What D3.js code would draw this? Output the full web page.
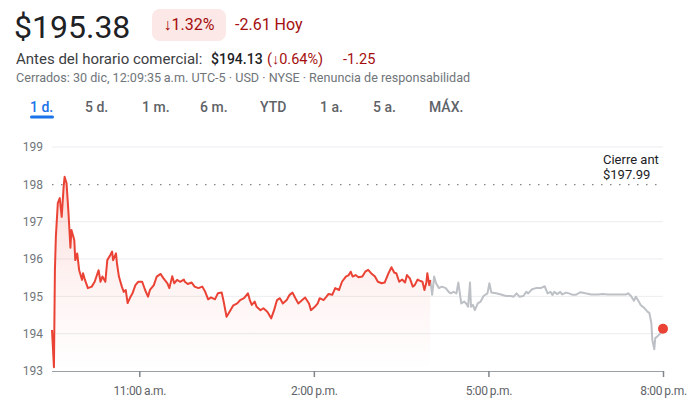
<!DOCTYPE html>
<html>
<head>
<meta charset="utf-8">
<script src="https://cdn.jsdelivr.net/npm/d3@7"></script>
<style>
  body { margin: 0; background: #fff; }
  svg { display: block; font-family: Roboto, "Noto Sans", sans-serif; }
</style>
</head>
<body>
<div id="chart"></div>
<script>
// minutes after 9:30 a.m. and price, regular session
var sessionMin = [0,2,3,4,6,8,10,12,13,15,17,19,20,23,24,26,28,31,32,34,37,41,44,48,50,52,55,57,60,62,63,66,67,69,72,74,76,78,81,83,86,89,93,96,99,101,105,108,112,115,119,121,124,126,129,132,136,137,140,144,147,151,155,158,161,164,168,171,175,177,180,184,187,191,194,198,202,204,206,209,211,215,218,222,226,229,232,235,238,242,245,248,251,254,258,261,265,267,271,274,276,280,283,285,289,292,296,299,303,306,308,310,313,316,320,323,326,329,333,336,340,343,347,350,353,355,358,361,364,366,369,372,374,377,379,382,384,386,387,389,390];
var sessionPrice = [194.1,193.1,195.7,196.6,197.5,197.63,197.13,197.94,198.2,198.03,197.23,196.3,196.78,196.5,195.97,196.15,195.7,195.44,195.62,195.44,195.22,195.26,195.39,195.7,195.39,195.53,195.39,195.97,196.1,196.2,195.97,196.15,195.88,195.53,195.26,195.12,195.17,194.82,194.99,195.08,195.3,195.39,195.39,195.17,194.99,195.17,195.3,195.53,195.6,195.48,195.35,195.22,195.54,195.35,195.44,195.39,195.45,195.39,195.33,195.37,195.26,195.22,195.26,195.12,194.92,194.97,194.92,195.08,195.1,194.86,194.45,194.63,194.76,194.81,194.9,194.95,195.08,194.9,194.77,194.86,194.72,194.63,194.68,194.59,194.41,194.63,194.9,194.95,194.81,194.9,195.04,195.1,194.95,194.81,194.9,194.97,194.81,194.63,194.72,194.81,194.95,194.9,194.99,195.06,195.04,195.22,195.17,195.39,195.53,195.57,195.66,195.53,195.57,195.51,195.53,195.66,195.71,195.62,195.53,195.39,195.35,195.37,195.62,195.78,195.63,195.62,195.39,195.45,195.37,195.57,195.48,195.26,195.3,195.45,195.42,195.39,195.17,195.37,195.62,195.3,195.44];

// after hours
var afterMin = [390,392,394,396,399,402,406,409,411,414,417,419,421,422,425,427,429,431,432,434,436,439,442,445,449,451,453,458,463,468,473,476,479,482,486,489,491,495,499,504,508,511,514,516,518,521,524,526,530,533,537,540,545,550,556,563,568,573,580,587,592,594,597,600,602,605,607,611,614,616,618,619,621,622,624,627,630];
var afterPrice = [195.44,195.04,195.53,195.35,195.22,195.26,195.22,195.12,195.08,195.12,195.08,195.37,194.99,194.81,194.86,194.81,194.72,195.37,194.72,194.77,194.63,194.81,194.86,195.01,195.08,195.35,195.1,195.08,195.05,195.01,195.01,194.99,195.08,194.99,195.01,195.12,195.08,195.19,195.22,195.22,195.27,195.08,195.12,195.04,195.12,195.06,195.12,195.05,195.1,195.08,195.04,195.04,195.11,195.08,195.05,195.05,195.06,195.05,195.05,195.05,195.05,195.08,195.01,194.88,194.99,194.86,194.77,194.68,194.59,194.55,194.28,193.83,193.58,193.88,193.92,194.0,194.1];

var prevClose = 197.99;
var lastMin = 630, lastPrice = 194.13;

var yTicks = [193, 194, 195, 196, 197, 198, 199];
var xTickMin = [90, 270, 450, 630];
var xTickLabels = ["11:00\u2009a.m.", "2:00\u2009p.m.", "5:00\u2009p.m.", "8:00\u2009p.m."];

var tabs = ["1 d.", "5 d.", "1 m.", "6 m.", "YTD", "1 a.", "5 a.", "MÁX."];
var tabX = [30, 85, 142, 200, 260, 320, 373, 429];

var W = 696, H = 410;
var svg = d3.select("#chart").append("svg")
  .attr("width", W)
  .attr("height", H);

// header
svg.append("text").attr("x", 14).attr("y", 38)
  .style("font-size", "32px").style("fill", "#202124")
  .text("$195.38");

svg.append("rect").attr("x", 152).attr("y", 9).attr("width", 74).attr("height", 32)
  .attr("rx", 8).style("fill", "#fce8e6");
svg.append("text").attr("x", 189).attr("y", 30).attr("text-anchor", "middle")
  .style("font-size", "16px").style("fill", "#a50e0e")
  .text("\u21931.32%");
svg.append("text").attr("x", 235).attr("y", 30)
  .style("font-size", "16px").style("fill", "#a50e0e")
  .text("-2.61 Hoy");

var l2 = svg.append("text").attr("x", 16).attr("y", 64);
l2.append("tspan").style("font-size", "15px").style("fill", "#3c4043").text("Antes del horario comercial:");
l2.append("tspan").attr("x", 211).style("font-size", "14px").style("fill", "#202124").style("font-weight", 500).text("$194.13");
l2.append("tspan").attr("x", 267).style("font-size", "14.5px").style("fill", "#a50e0e").text("(\u21930.64%)");
l2.append("tspan").attr("x", 343).style("font-size", "14.5px").style("fill", "#a50e0e").text("-1.25");

svg.append("text").attr("x", 16).attr("y", 82)
  .style("font-size", "12.6px").style("fill", "#70757a")
  .text("Cerrados: 30 dic, 12:09:35\u2009a.m. UTC-5 · USD · NYSE · Renuncia de responsabilidad");

// tabs
svg.selectAll(".tab")
  .data(tabs)
  .enter().append("text")
  .attr("class", "tab")
  .attr("x", function(d, i) { return tabX[i]; })
  .attr("y", 112)
  .style("font-size", "14px")
  .style("font-weight", 500)
  .style("fill", function(d, i) { return i == 0 ? "#1a73e8" : "#5f6368"; })
  .text(function(d) { return d; });
svg.append("rect").attr("x", 30).attr("y", 115.5).attr("width", 24).attr("height", 3)
  .attr("rx", 1.5).style("fill", "#1a73e8");

// scales
var xScale = d3.scaleLinear().domain([0, 630]).range([52, 663]);
var yScale = d3.scaleLinear().domain([193, 199]).range([371, 147]);

// grid
svg.selectAll(".grid")
  .data(yTicks.filter(function(d) { return d != 193 && d != 198; }))
  .enter().append("line")
  .attr("class", "grid")
  .attr("x1", 52).attr("x2", 663)
  .attr("y1", function(d) { return yScale(d); })
  .attr("y2", function(d) { return yScale(d); })
  .style("stroke", "#ebedef").style("stroke-width", 1);

// y labels
var yAxis = d3.axisLeft(yScale).tickValues(yTicks).tickSize(0).tickPadding(9)
  .tickFormat(d3.format("d"));
var yg = svg.append("g").attr("transform", "translate(52,0)").call(yAxis);
yg.select(".domain").remove();
yg.selectAll("text").style("font-size", "12px").style("fill", "#70757a")
  .style("font-family", "Roboto, sans-serif");

// previous close
svg.append("line")
  .attr("x1", 52).attr("x2", 663)
  .attr("y1", yScale(prevClose)).attr("y2", yScale(prevClose))
  .style("stroke", "#80868b").style("stroke-width", 1.2)
  .style("stroke-dasharray", "1.5,7.5");
var pc = svg.append("text").attr("x", 603).style("font-size", "13px").style("fill", "#202124");
pc.append("tspan").attr("x", 603).attr("y", 164).text("Cierre ant");
pc.append("tspan").attr("x", 603).attr("y", 179).text("$" + prevClose.toFixed(2));

// gradient fill
var grad = svg.append("defs").append("linearGradient")
  .attr("id", "fillGrad").attr("x1", 0).attr("x2", 0)
  .attr("gradientUnits", "userSpaceOnUse")
  .attr("y1", yScale(198.2)).attr("y2", yScale(193));
grad.append("stop").attr("offset", 0).attr("stop-color", "#ea4335").attr("stop-opacity", 0.2);
grad.append("stop").attr("offset", 0.5).attr("stop-color", "#ea4335").attr("stop-opacity", 0.07);
grad.append("stop").attr("offset", 1).attr("stop-color", "#ea4335").attr("stop-opacity", 0.0);

var session = sessionMin.map(function(m, i) { return [m, sessionPrice[i]]; });
var after = afterMin.map(function(m, i) { return [m, afterPrice[i]]; });

var area = d3.area()
  .x(function(d) { return xScale(d[0]); })
  .y0(yScale(193))
  .y1(function(d) { return yScale(d[1]); });
svg.append("path").datum(session).attr("d", area).style("fill", "url(#fillGrad)");

var line = d3.line()
  .x(function(d) { return xScale(d[0]); })
  .y(function(d) { return yScale(d[1]); });

svg.append("path").datum(after).attr("d", line)
  .style("fill", "none").style("stroke", "#bdc1c6").style("stroke-width", 2)
  .style("stroke-linejoin", "round");
svg.append("path").datum(session).attr("d", line)
  .style("fill", "none").style("stroke", "#ea4335").style("stroke-width", 2)
  .style("stroke-linejoin", "round");

// x axis
var xAxis = d3.axisBottom(xScale).tickValues(xTickMin).tickSize(6).tickPadding(9)
  .tickFormat(function(d, i) { return xTickLabels[i]; });
var xg = svg.append("g").attr("transform", "translate(0," + yScale(193) + ")").call(xAxis);
xg.select(".domain").attr("d", "M52,0.5H663").style("stroke", "#9aa0a6");
xg.selectAll(".tick line").style("stroke", "#80868b").style("stroke-width", 1.5);
xg.selectAll("text").style("font-size", "12px").style("fill", "#5f6368")
  .style("font-family", "Roboto, sans-serif").style("letter-spacing", "-0.3px");

// last point
svg.append("circle")
  .attr("cx", xScale(lastMin)).attr("cy", yScale(lastPrice)).attr("r", 5)
  .style("fill", "#ea4335");
</script>
</body>
</html>
